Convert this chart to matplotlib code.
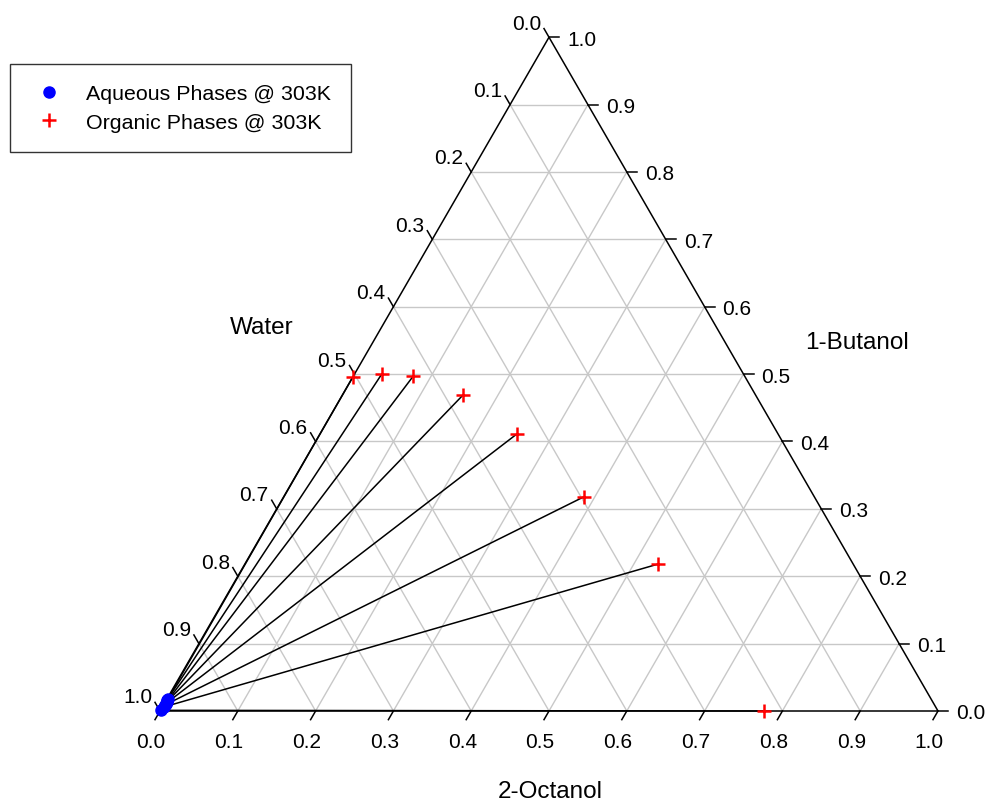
import numpy as np
import matplotlib
matplotlib.use("Agg")
from matplotlib import pyplot as plt

plt.rcParams['font.family'] = ['Liberation Sans', 'DejaVu Sans']

# compositions (mass fractions)
org_oct = [0.000, 0.035, 0.077, 0.155, 0.253, 0.386, 0.531, 0.776]
org_but = [0.495, 0.500, 0.497, 0.469, 0.411, 0.318, 0.218, 0.000]
aq_oct = [0.001, 0.001, 0.002, 0.002, 0.002, 0.002, 0.002, 0.001]
aq_but = [0.018, 0.017, 0.015, 0.013, 0.011, 0.009, 0.006, 0.001]

ticks = [0.0, 0.1, 0.2, 0.3, 0.4, 0.5, 0.6, 0.7, 0.8, 0.9, 1.0]
tick_labels = ["%.1f" % t for t in ticks]

H = np.sqrt(3) / 2
PX = 778.0  # pixels per unit side


def tern(o, b):
    o = np.asarray(o, dtype=float)
    b = np.asarray(b, dtype=float)
    return o + b / 2, b * H


fig = plt.figure(figsize=(9.88, 8.03), dpi=100)
ax = fig.add_axes([0, 0, 1, 1])
ax.set_xlim(-160 / PX, (988 - 160) / PX)
ax.set_ylim((712 - 803) / PX, 712 / PX)
ax.axis('off')

grid_c = '#c8c8c8'
for v in ticks[1:-1]:
    # constant octanol
    x, y = tern([v, v], [0, 1 - v])
    ax.plot(x, y, color=grid_c, lw=1.0, zorder=1)
    # constant butanol
    x, y = tern([0, 1 - v], [v, v])
    ax.plot(x, y, color=grid_c, lw=1.0, zorder=1)
    # constant water
    x, y = tern([0, 1 - v], [1 - v, 0])
    ax.plot(x, y, color=grid_c, lw=1.0, zorder=1)

# triangle frame
x, y = tern([0, 1, 0, 0], [0, 0, 1, 0])
ax.plot(x, y, color='black', lw=1.1, zorder=3, solid_joinstyle='miter')

L = 10 / PX
fs = 15
for v, lab in zip(ticks, tick_labels):
    # bottom axis: 2-Octanol
    x0, y0 = tern(v, 0)
    ax.plot([x0, x0 - 0.5 * L], [y0, y0 - H * L], color='black', lw=1.1)
    ax.text(x0 - 9 / PX, y0 - 31 / PX, lab, fontsize=fs, ha='center', va='center')
    # right axis: 1-Butanol
    x0, y0 = tern(1 - v, v)
    ax.plot([x0, x0 + L], [y0, y0], color='black', lw=1.1)
    ax.text(x0 + 18 / PX, y0 - 2 / PX, lab, fontsize=fs, ha='left', va='center')
    # left axis: Water
    x0, y0 = tern(0, 1 - v)
    ax.plot([x0, x0 - 0.5 * L], [y0, y0 + H * L], color='black', lw=1.1)
    ax.text(x0 - 8 / PX, y0 + 14 / PX, lab, fontsize=fs, ha='right', va='center')

ax.text((262 - 160) / PX, (712 - 328) / PX, "Water", fontsize=17.5, ha='center', va='center')
ax.text((857 - 160) / PX, (712 - 343) / PX, "1-Butanol", fontsize=17.5, ha='center', va='center')
ax.text((550 - 160) / PX, (712 - 792) / PX, "2-Octanol", fontsize=17.5, ha='center', va='center')

# tie lines
ax_x, ax_y = tern(aq_oct, aq_but)
or_x, or_y = tern(org_oct, org_but)
for i in range(len(org_oct)):
    ax.plot([ax_x[i], or_x[i]], [ax_y[i], or_y[i]], color='black', lw=1.1, zorder=4)

ax.plot(ax_x, ax_y, 'o', color='blue', ms=8, mec='blue', zorder=5,
        label='Aqueous Phases @ 303K', clip_on=False)
ax.plot(or_x, or_y, '+', color='red', ms=10, mew=1.8, zorder=6,
        label='Organic Phases @ 303K', clip_on=False)

leg = fig.legend(loc='upper left', bbox_to_anchor=(10 / 988, 1 - 65 / 803),
                 borderaxespad=0, fontsize=15.4, frameon=True, fancybox=False,
                 edgecolor='black', numpoints=1, handlelength=1.7,
                 handletextpad=0.9, borderpad=0.95, labelspacing=0.45)
leg.get_frame().set_linewidth(1.0)

fig.savefig('out.png', dpi=100)
